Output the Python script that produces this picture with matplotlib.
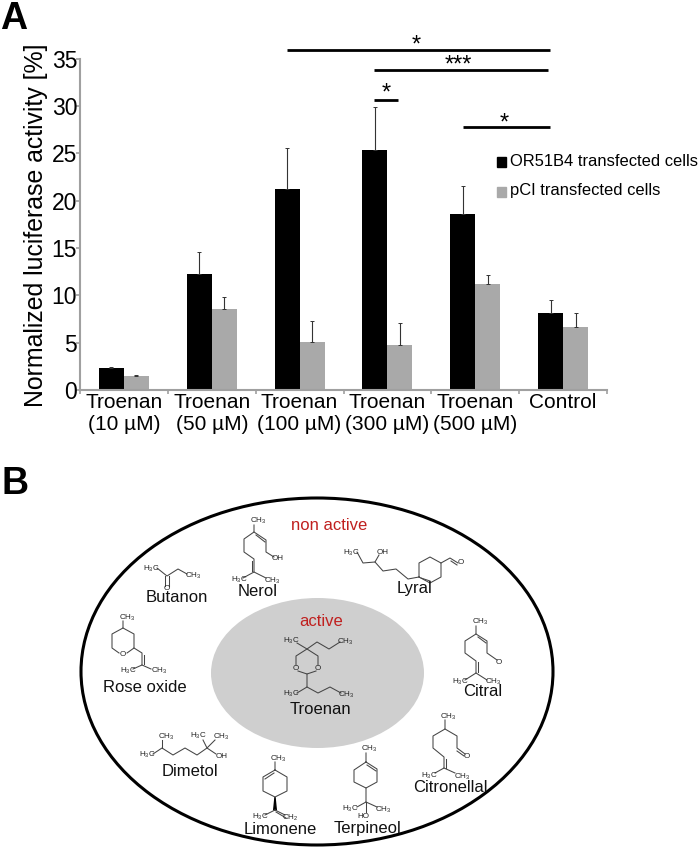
import numpy as np
import matplotlib
matplotlib.use('Agg')
import matplotlib.pyplot as plt
from matplotlib.patches import Ellipse, Polygon, Rectangle

plt.rcParams['font.family'] = ['Liberation Sans', 'DejaVu Sans']
plt.rcParams['mathtext.default'] = 'regular'

# bar data
categories = ['Troenan\n(10 µM)', 'Troenan\n(50 µM)', 'Troenan\n(100 µM)',
              'Troenan\n(300 µM)', 'Troenan\n(500 µM)', 'Control']
or51b4 = [2.3, 12.3, 21.2, 25.3, 18.6, 8.1]
or51b4_top = [2.45, 14.6, 25.5, 29.9, 21.5, 9.5]
pci = [1.5, 8.6, 5.1, 4.8, 11.2, 6.6]
pci_top = [1.6, 9.8, 7.3, 7.1, 12.1, 8.1]

# significance bars, in picture pixels: x0, x1, y, star x, star y, text
sig_bars = [(287, 550, 50, 416, 46, '*'),
            (374, 548, 70, 458, 66, '***'),
            (374, 398, 100, 386, 94, '*'),
            (463, 550, 127, 504, 124, '*')]

# compound drawings in picture pixels
chains = [
    # Butanon
    [(157, 568), (167, 576), (178, 569), (187, 574)],
    # Nerol
    [(254, 525), (254, 532), (244, 539), (244, 552), (254, 559), (254, 572), (243, 578)],
    [(254, 572), (266, 578)], [(254, 532), (266, 540), (266, 552), (274, 557)],
    # Lyral
    [(357, 552), (363, 563), (375, 562), (383, 571), (396, 569), (408, 579), (419, 577)],
    [(375, 562), (379, 555)],
    [(419, 577), (419, 563), (430, 557), (441, 563), (441, 577), (430, 583), (419, 577)],
    [(441, 563), (450, 558), (458, 563)],
    # Citral
    [(476, 626), (476, 634), (465, 641), (465, 653), (476, 661), (476, 673), (465, 680)],
    [(476, 673), (487, 680)], [(476, 634), (487, 641), (487, 653), (497, 660)],
    # Rose oxide
    [(123, 621), (123, 628), (112, 634), (112, 648), (119, 653)],
    [(127, 653), (134, 648), (134, 634), (123, 628)],
    [(134, 648), (142, 653), (142, 665), (133, 669)], [(142, 665), (151, 669)],
    # Troenan
    [(297, 643), (307, 649), (317, 642), (329, 649), (340, 642)],
    [(296, 665), (296, 656), (307, 649), (318, 656), (318, 665)],
    [(298, 671), (307, 674), (316, 671)],
    [(307, 674), (307, 687), (297, 693)], [(307, 687), (318, 693), (330, 687), (341, 693)],
    # Dimetol
    [(162, 740), (162, 748)],
    [(153, 754), (162, 748), (173, 755), (185, 748), (197, 755), (207, 748), (216, 754)],
    [(203, 740), (207, 748), (215, 740)],
    # Limonene
    [(275, 762), (275, 770), (263, 777), (263, 791), (275, 797), (287, 791), (287, 777), (275, 770)],
    [(275, 810), (265, 815)], [(275, 810), (285, 815)],
    # Terpineol
    [(366, 753), (366, 762), (354, 770), (354, 782), (366, 788), (377, 782), (377, 769), (366, 762)],
    [(366, 788), (366, 802), (357, 807)], [(366, 802), (377, 807)], [(366, 802), (366, 812)],
    # Citronellal
    [(445, 720), (445, 729), (433, 736), (433, 748), (444, 757), (444, 768), (435, 773)],
    [(444, 768), (455, 773)], [(445, 729), (457, 736), (457, 748), (465, 754)],
]
# second stroke of the double bonds
double_bonds = [
    [(169, 576), (169, 586)], [(165, 576), (165, 586)],
    [(256, 535), (265, 542)], [(252, 561), (252, 571)],
    [(421, 578), (430, 581)], [(451, 561), (457, 565)],
    [(478, 637), (486, 643)], [(478, 662), (478, 672)],
    [(144, 655), (144, 664)], [(265, 779), (274, 773)],
    [(276, 812), (286, 818)], [(367, 765), (376, 771)],
    [(446, 759), (446, 768)], [(457, 751), (464, 756)],
]

atom_labels = [
    ('$H_3C$', 151, 569), ('$CH_3$', 193, 576), ('O', 167, 589),
    ('$CH_3$', 258, 521), ('OH', 278, 559), ('$H_3C$', 239, 580), ('$CH_3$', 272, 581),
    ('$H_3C$', 351, 553), ('OH', 383, 552), ('O', 461, 563),
    ('$CH_3$', 480, 622), ('O', 499, 662), ('$H_3C$', 460, 682), ('$CH_3$', 493, 682),
    ('$CH_3$', 127, 618), ('O', 123, 655), ('$H_3C$', 128, 671), ('$CH_3$', 159, 671),
    ('$H_3C$', 291, 641), ('$CH_3$', 345, 642), ('O', 296, 668), ('O', 318, 668),
    ('$H_3C$', 291, 694), ('$CH_3$', 346, 695),
    ('$CH_3$', 166, 737), ('$H_3C$', 147, 755), ('$H_3C$', 198, 736), ('$CH_3$', 221, 737), ('OH', 222, 756),
    ('$CH_3$', 278, 759), ('$H_3C$', 260, 817), ('$CH_2$', 290, 818),
    ('$CH_3$', 369, 749), ('$H_3C$', 350, 809), ('$CH_3$', 383, 810), ('HO', 363, 817),
    ('$CH_3$', 448, 717), ('O', 467, 756), ('$H_3C$', 429, 776), ('$CH_3$', 462, 777),
]
compound_names = [
    ('Butanon', 177, 597), ('Nerol', 258, 591), ('Lyral', 414, 589), ('Citral', 483, 691),
    ('Rose oxide', 145, 688), ('Troenan', 320, 709), ('Dimetol', 190, 771),
    ('Limonene', 280, 829), ('Terpineol', 368, 829), ('Citronellal', 450, 788),
]

W, H = 700, 852
fig = plt.figure(figsize=(7, 8.52), dpi=100)

# bar chart
ax = fig.add_axes([80 / W, 1 - 390 / H, 527 / W, 331.5 / H])
x = np.arange(len(categories))
bw = 0.285
err1 = [np.zeros(6), np.array(or51b4_top) - np.array(or51b4)]
err2 = [np.zeros(6), np.array(pci_top) - np.array(pci)]
ekw = dict(ecolor='#333333', elinewidth=0.8, capsize=1.2, capthick=0.7)
ax.bar(x - bw / 2, or51b4, bw, color='black', yerr=err1, error_kw=ekw)
ax.bar(x + bw / 2, pci, bw, color='#a9a9a9', yerr=err2, error_kw=ekw)
ax.set_xlim(-0.5, 5.5)
ax.set_ylim(0, 35)
ax.set_yticks(np.arange(0, 36, 5))
ax.set_xticks(np.arange(-0.5, 6, 1))
ax.set_xticklabels([])
ax.set_xticks(x, minor=True)
ax.set_xticklabels(categories, minor=True, fontsize=15, linespacing=1.2)
ax.tick_params(axis='x', which='minor', length=0, pad=2)
ax.tick_params(axis='x', which='major', length=3, color='#a0a0a0', width=1.2)
ax.tick_params(axis='y', length=3, color='#a0a0a0', width=1.2, labelsize=16.5, pad=-1)
ax.set_ylabel('Normalized luciferase activity [%]', fontsize=17.9)
ax.yaxis.set_label_coords(-0.06, 0.498)
for s in ['top', 'right']:
    ax.spines[s].set_visible(False)
for s in ['left', 'bottom']:
    ax.spines[s].set_color('#a0a0a0')
    ax.spines[s].set_linewidth(1.5)

# overlay in picture pixels for everything that is not a bar
ov = fig.add_axes([0, 0, 1, 1], facecolor='none')
ov.set_xlim(0, W)
ov.set_ylim(H, 0)
ov.axis('off')

ov.text(0, 29, 'A', fontsize=27, fontweight='bold', ha='left', va='baseline')
ov.text(2, 494, 'B', fontsize=27, fontweight='bold', ha='left', va='baseline')

for x0, x1, y, sx, sy, star in sig_bars:
    ov.plot([x0, x1], [y, y], color='black', lw=2.0, solid_capstyle='butt')
    ov.text(sx, sy, star, fontsize=17, ha='center', va='center')

# legend
ov.add_patch(Rectangle((497, 157), 9, 10, color='black'))
ov.add_patch(Rectangle((497, 187), 9, 10, color='#a9a9a9'))
ov.text(510, 162, 'OR51B4 transfected cells', fontsize=11.9, va='center')
ov.text(510, 190, 'pCI transfected cells', fontsize=11.9, va='center')

# panel B
ov.add_patch(Ellipse((317, 671.5), 472, 347, fill=False, ec='black', lw=2.2))
ov.add_patch(Ellipse((317.5, 673), 213, 150, fc='#cfcfcf', ec='none'))
ov.text(329, 525, 'non active', color='#c0201f', fontsize=12, ha='center', va='center')
ov.text(321, 621, 'active', color='#c0201f', fontsize=12, ha='center', va='center')

for c in chains + double_bonds:
    pts = np.array(c)
    ov.plot(pts[:, 0], pts[:, 1], color='#444444', lw=0.75)
ov.add_patch(Polygon([(275, 797), (273.7, 810), (276.3, 810)], color='black'))
for t, px, py in atom_labels:
    ov.text(px, py, t, fontsize=5.8, color='#222222', ha='center', va='center')
for t, px, py in compound_names:
    ov.text(px, py, t, fontsize=12, color='#111111', ha='center', va='center')

fig.savefig('out.png', dpi=100)
